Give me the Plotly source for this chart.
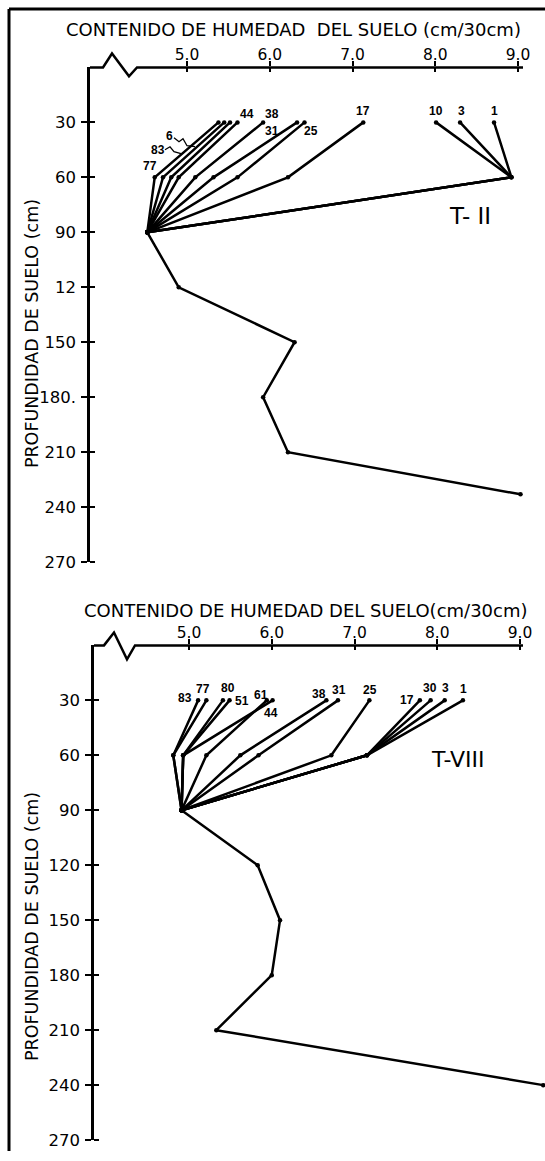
import plotly.graph_objects as go

W, H = 545, 1161

# ---------------- data ----------------
depth_upper = [30, 60, 90]

# Panel T-II
t2_labels = ["77", "83", "6", "44", "38", "31", "25", "17", "10", "3", "1"]
t2_30 = [5.38, 5.45, 5.52, 5.61, 5.92, 6.33, 6.42, 7.13, 8.01, 8.30, 8.71]
t2_60 = [4.61, 4.71, 4.81, 4.90, 5.10, 5.32, 5.61, 6.22, 8.92, 8.92, 8.92]
t2_90 = 4.52
t2_deep_depth = [90, 120, 150, 180, 210, 233]
t2_deep = [4.52, 4.90, 6.30, 5.92, 6.22, 9.03]
t2_ytick_text = ["30", "60", "90", "12", "150", "180.", "210", "240", "270"]

# Panel T-VIII
t8_labels = ["83", "77", "80", "51", "61", "44", "38", "31", "25", "17", "30", "3", "1"]
t8_30 = [5.11, 5.21, 5.41, 5.49, 6.01, 5.94, 6.66, 6.80, 7.18, 7.79, 7.92, 8.09, 8.31]
t8_60 = [4.81, 4.81, 4.93, 4.93, 4.93, 5.21, 5.62, 5.84, 6.72, 7.15, 7.15, 7.15, 7.15]
t8_90 = 4.91
t8_deep_depth = [90, 120, 150, 180, 210, 240]
t8_deep = [4.91, 5.83, 6.10, 6.00, 5.33, 9.28]
t8_ytick_text = ["30", "60", "90", "120", "150", "180", "210", "240", "270"]

x_ticks = [5, 6, 7, 8, 9]
x_tick_text = ["5.0", "6.0", "7.0", "8.0", "9.0"]
y_ticks = [30, 60, 90, 120, 150, 180, 210, 240, 270]

x_title = "CONTENIDO DE HUMEDAD  DEL SUELO (cm/30cm)"
x_title_b = "CONTENIDO DE HUMEDAD DEL SUELO(cm/30cm)"
y_title = "PROFUNDIDAD DE SUELO (cm)"

# label offsets in screen pixels (dx right, dy down) relative to the 30 cm point
t2_off = {"77": (-68, 44), "83": (-66, 28), "6": (-61, 14), "44": (10, -8), "38": (9, -8),
          "31": (-25, 9), "25": (6, 9), "17": (0, -11), "10": (0, -11), "3": (1, -11), "1": (0, -11)}
t8_off = {"83": (-13, -2), "77": (-3, -11), "80": (5, -12), "51": (12, 1), "61": (-12, -5),
          "44": (4, 13), "38": (-7, -6), "31": (1, -10), "25": (1, -10), "17": (-13, 0),
          "30": (-1, -12), "3": (1, -12), "1": (1, -11)}

FONT = "Liberation Sans"
TFONT = "DejaVu Sans"
LW = 2.5


def px(x):
    return x / W


def py(y):
    return 1 - y / H


fig = go.Figure()


def add_panel(xa, ya, labels, v30, v60, v90, deep_d, deep_v):
    for lab, a, b in zip(labels, v30, v60):
        fig.add_trace(go.Scatter(
            x=[a, b, v90], y=depth_upper, mode="lines+markers",
            line=dict(color="black", width=LW), marker=dict(size=4.5, color="black"),
            xaxis=xa, yaxis=ya, showlegend=False, cliponaxis=False, name=lab))
    fig.add_trace(go.Scatter(
        x=deep_v, y=deep_d, mode="lines+markers",
        line=dict(color="black", width=LW), marker=dict(size=4.5, color="black"),
        xaxis=xa, yaxis=ya, showlegend=False, cliponaxis=False))


add_panel("x", "y", t2_labels, t2_30, t2_60, t2_90, t2_deep_depth, t2_deep)
add_panel("x2", "y2", t8_labels, t8_30, t8_60, t8_90, t8_deep_depth, t8_deep)

eps = 1e-4
common_x = dict(side="top", tickmode="array", tickvals=x_ticks, ticktext=x_tick_text,
                ticks="outside", ticklen=5, tickwidth=2, tickcolor="black",
                showline=False, showgrid=False, zeroline=False, ticklabelstandoff=-5,
                tickfont=dict(family=TFONT, size=15.5, color="black"),
                minor=dict(ticks="inside", tickmode="array", tickvals=[v + eps for v in x_ticks],
                           ticklen=5, tickwidth=2, tickcolor="black", showgrid=False))
common_y = dict(tickmode="array", tickvals=y_ticks, ticks="outside", ticklen=6, tickwidth=2,
                tickcolor="black", showline=True, linecolor="black", linewidth=LW,
                showgrid=False, zeroline=False, ticklabelstandoff=2,
                tickfont=dict(family=TFONT, size=16.5, color="black"),
                minor=dict(ticks="inside", tickmode="array", tickvals=[v + eps for v in y_ticks],
                           ticklen=5, tickwidth=2, tickcolor="black", showgrid=False))

fig.update_layout(
    width=W, height=H, autosize=False,
    margin=dict(l=0, r=0, t=0, b=0),
    paper_bgcolor="white", plot_bgcolor="white",
    xaxis=dict(domain=[px(90), 1], range=[3.828, 9.326], anchor="y", **common_x),
    yaxis=dict(domain=[py(567), py(68)], range=[270, 0], anchor="x",
               ticktext=t2_ytick_text, **common_y),
    xaxis2=dict(domain=[px(94), 1], range=[3.852, 9.302], anchor="y2", **common_x),
    yaxis2=dict(domain=[py(1150), py(651)], range=[270, 0], anchor="x2",
                ticktext=t8_ytick_text, **common_y),
)


def path(points):
    return "M " + " L ".join(f"{px(a):.5f},{py(b):.5f}" for a, b in points)


shapes = []
# broken top axes (zigzag)
shapes.append(dict(type="path", xref="paper", yref="paper",
                   path=path([(90, 68), (103, 68), (112, 54), (129, 77), (137, 68), (523, 68)]),
                   line=dict(color="black", width=LW)))
shapes.append(dict(type="path", xref="paper", yref="paper",
                   path=path([(94, 651), (104, 651), (114, 638), (127, 665), (135, 651), (523, 651)]),
                   line=dict(color="black", width=LW)))
# frame
shapes.append(dict(type="line", xref="paper", yref="paper", x0=px(9), x1=px(9), y0=py(9), y1=0,
                   line=dict(color="black", width=3)))
shapes.append(dict(type="line", xref="paper", yref="paper", x0=px(9), x1=1, y0=py(9), y1=py(9),
                   line=dict(color="black", width=3)))
# little leader squiggles for crowded labels
shapes.append(dict(type="path", xref="paper", yref="paper",
                   path=path([(165, 151), (170, 148), (174, 153), (181, 155)]),
                   line=dict(color="black", width=1.3)))
shapes.append(dict(type="path", xref="paper", yref="paper",
                   path=path([(174, 139), (179, 143), (183, 140), (187, 147), (195, 148)]),
                   line=dict(color="black", width=1.3)))
fig.update_layout(shapes=shapes)

ann = []
for lab, v in zip(t2_labels, t2_30):
    dx, dy = t2_off[lab]
    ann.append(dict(x=v, y=30, xref="x", yref="y", text=f"<b>{lab}</b>", showarrow=False,
                    xanchor="center", yanchor="middle",
                    xshift=dx, yshift=-dy, font=dict(family=FONT, size=12, color="black")))
for lab, v in zip(t8_labels, t8_30):
    dx, dy = t8_off[lab]
    ann.append(dict(x=v, y=30, xref="x2", yref="y2", text=f"<b>{lab}</b>", showarrow=False,
                    xanchor="center", yanchor="middle",
                    xshift=dx, yshift=-dy, font=dict(family=FONT, size=12, color="black")))


def txt(x, y, text, size, angle=0):
    return dict(x=px(x), y=py(y), xref="paper", yref="paper", text=text, showarrow=False,
                xanchor="center", yanchor="middle", textangle=angle,
                font=dict(family=TFONT, size=size, color="black"))


ann += [
    txt(293, 30, x_title, 18),
    txt(306, 616, x_title_b, 18),
    txt(32, 337, y_title, 17.5, -90),
    txt(32, 935, y_title, 17.5, -90),
    txt(470, 218, "T- II", 23),
    txt(458, 766, "T-VIII", 22),
]
fig.update_layout(annotations=ann)

fig.write_html("out.html", config={"displayModeBar": False},
               post_script="document.body.style.margin='0';document.body.style.overflow='hidden';")
